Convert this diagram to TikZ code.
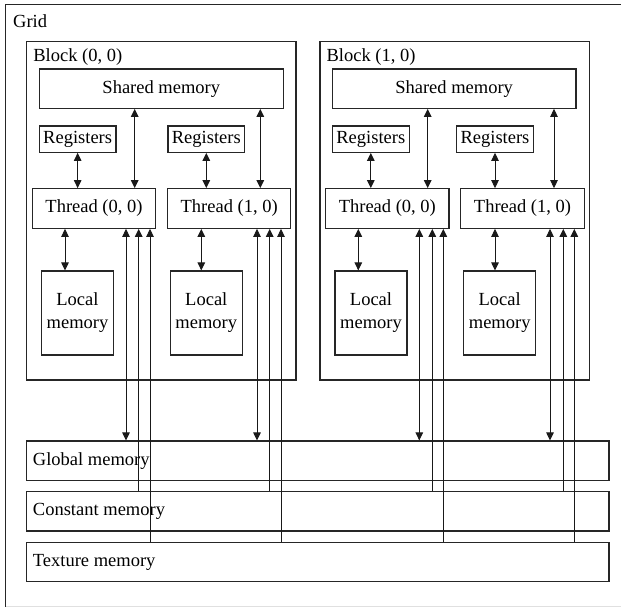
\documentclass[tikz,border=0pt]{standalone}
\usepackage{fontspec}
\setmainfont{Liberation Serif}
\usetikzlibrary{arrows.meta}
\begin{document}
\begin{tikzpicture}[x=1pt,y=-1pt,
  box/.style={draw=black!85,line width=1.1pt,rectangle,inner sep=0pt,font=\fontsize{18.5}{21}\selectfont,align=center},
  lbl/.style={inner sep=0pt,anchor=west,font=\fontsize{18.5}{21}\selectfont},
  conn/.style={line width=1pt,draw=black!90},
  dbl/.style={conn,{Triangle[length=8pt,width=7.5pt]}-{Triangle[length=8pt,width=7.5pt]}},
  up/.style={conn,{Triangle[length=8pt,width=7.5pt]}-}]
\useasboundingbox (0,0) rectangle (621,607);
% grid
\node[minimum width=640pt,minimum height=601.5pt,inner sep=0pt] (grid) at (326,305.75) {};
\draw[line width=1.1pt,black!85] (grid.north east) -- (grid.north west) -- (grid.south west);
\draw[line width=1pt,black!12] (grid.south west) -- (grid.south east);
\node[lbl] (gridlab) at (13,21) {Grid};
% blocks
\foreach \b/\cx/\lab in {b0/161.35/{Block (0, 0)}, b1/454.65/{Block (1, 0)}} {
  \node[box,minimum width=269.3pt,minimum height=338.3pt] (\b) at (\cx,210.85) {};
  \node[lbl] (\b lab) at ([xshift=7pt,yshift=-16pt]\b.north west) {\lab};
}
\node[box,minimum width=244pt,minimum height=39.3pt] (sh0) at (161.3,88.65) {Shared memory};
\node[box,minimum width=243.7pt,minimum height=39.3pt] (sh1) at (454.15,88.65) {Shared memory};
% registers, threads, local
\foreach \n/\rx/\tx/\lx/\lab in {00/77.65/94/77.5/{Thread (0, 0)}, 01/206.3/229.2/206.3/{Thread (1, 0)}, 10/370.8/387.35/371/{Thread (0, 0)}, 11/495/522.5/499.7/{Thread (1, 0)}} {
  \node[box,minimum width=76.7pt,minimum height=26.3pt] (reg\n) at (\rx,139.15) {Registers};
  \node[box,minimum width=123.3pt,minimum height=39.6pt] (th\n) at (\tx,208.5) {\lab};
  \node[box,minimum width=72pt,minimum height=84pt] (loc\n) at (\lx,313) {Local\\[2pt]memory};
}
% global etc
\node[box,minimum width=582.3pt,minimum height=39.7pt] (glob) at (317.85,460.85) {};
\node[lbl] (globlab) at ([xshift=6.6pt]glob.west) {Global memory};
\node[box,minimum width=582.3pt,minimum height=39.3pt] (const) at (317.85,511.35) {};
\node[lbl] (constlab) at ([xshift=6.6pt]const.west) {Constant memory};
\node[box,minimum width=582.3pt,minimum height=39pt] (tex) at (317.85,562.2) {};
\node[lbl] (texlab) at ([xshift=6.6pt]tex.west) {Texture memory};
% arrows
\foreach \n/\sh/\sx/\lx/\gx/\cx/\xx in {00/sh0/134.7/65/126/138.7/150, 01/sh0/260.3/201.3/257/269.7/281, 10/sh1/427.7/358.3/419.3/432.3/443.3, 11/sh1/554/495/550/563.3/574.3} {
  \draw[dbl] (reg\n) -- (th\n.north -| reg\n);
  \path (\sx,0) coordinate (s\n) (\lx,0) coordinate (l\n) (\gx,0) coordinate (g\n) (\cx,0) coordinate (c\n) (\xx,0) coordinate (x\n);
  \draw[dbl] (\sh.south -| s\n) -- (th\n.north -| s\n);
  \draw[dbl] (th\n.south -| l\n) -- (loc\n.north -| l\n);
  \draw[dbl] (th\n.south -| g\n) -- (glob.north -| g\n);
  \draw[up] (th\n.south -| c\n) -- (const.north -| c\n);
  \draw[up] (th\n.south -| x\n) -- (tex.north -| x\n);
}
\end{tikzpicture}
\end{document}
